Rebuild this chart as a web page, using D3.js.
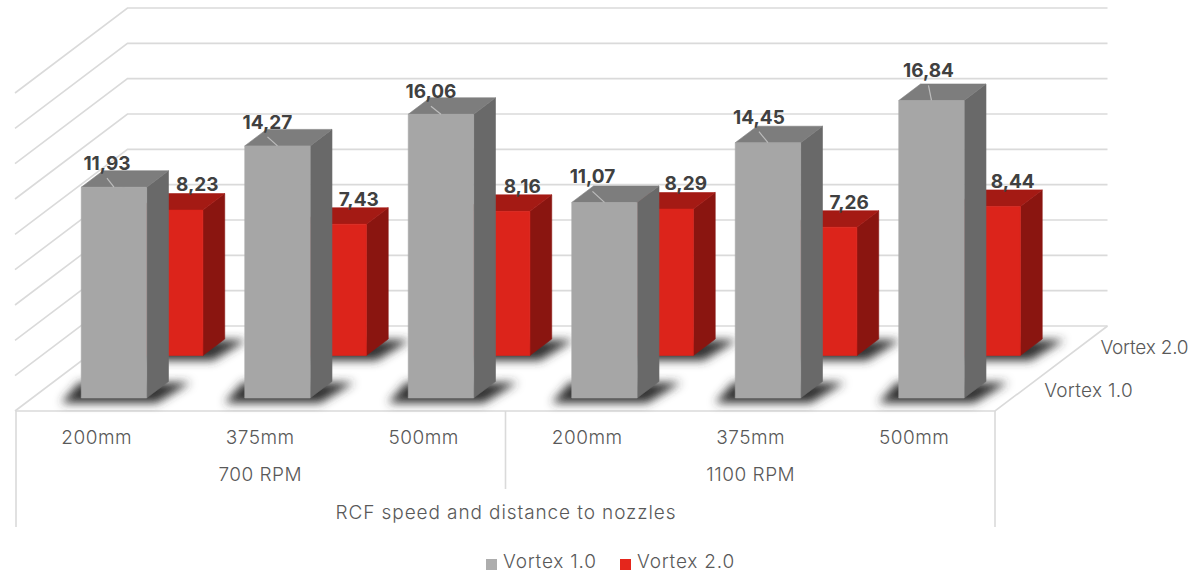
<!DOCTYPE html>
<html>
<head>
<meta charset="utf-8">
<script src="https://cdn.jsdelivr.net/npm/d3@7"></script>
<style>
  html, body { margin: 0; padding: 0; background: #fff; }
  svg { display: block; }
  text { font-family: Inter, "Open Sans", sans-serif; }
</style>
</head>
<body>
<svg id="chart" width="1204" height="572"></svg>
<script>
// Chart data
const distances = ["200mm", "375mm", "500mm", "200mm", "375mm", "500mm"];
const speeds = ["700 RPM", "1100 RPM"];
const seriesNames = ["Vortex 1.0", "Vortex 2.0"];
const vortex1 = [11.93, 14.27, 16.06, 11.07, 14.45, 16.84];
const vortex2 = [8.23, 7.43, 8.16, 8.29, 7.26, 8.44];
const axisTitle = "RCF speed and distance to nozzles";

// Hand placement of the value labels relative to each bar's top edge
const nudgeV1 = [[-7, -24], [-10, -24], [-10, -23], [-12, -26], [-9, -26], [-3, -30]];
const nudgeV2 = [[27, -26], [25, -25], [25, -25], [25, -26], [25, -25], [25, -25]];

const svg = d3.select("#chart");
const defs = svg.append("defs");
defs.append("filter").attr("id", "floorShadow")
  .attr("x", "-40%").attr("y", "-80%").attr("width", "180%").attr("height", "260%")
  .append("feGaussianBlur").attr("stdDeviation", 5);

// Oblique projection: x runs along the front edge, z goes into the depth, y goes up
const x = d3.scaleBand().domain(d3.range(distances.length)).range([15, 996])
  .paddingInner(0.6).paddingOuter(0.3);
const z = d3.scaleBand().domain(seriesNames).range([0, 1])
  .paddingInner(0.612).paddingOuter(0.306);
const y = d3.scaleLinear().domain([0, 18]).range([0, 318]);
const floorY = 411, depthX = 112.5, depthY = 85;

const px = (vx, vz) => vx + vz * depthX;
const py = (vy, vz) => floorY - vz * depthY - y(vy);
const pt = (vx, vy, vz) => [px(vx, vz), py(vy, vz)];
const path = d3.line().curve(d3.curveLinearClosed);
const openPath = d3.line();

const x0 = 16, x1 = 995;
const gridColor = "#dadada";

// Back wall, side wall and floor gridlines
const grid = svg.append("g").attr("fill", "none").attr("stroke", gridColor).attr("stroke-width", 1.6);
y.ticks(9).forEach(t => {
  grid.append("path").attr("d", openPath([pt(x0 - 1, t, 0), pt(x0 - 1, t, 1), pt(x1, t, 1)]));
});
grid.append("path").attr("d", openPath([pt(x0, 0, 0), pt(x1, 0, 0), pt(x1, 0, 1)]));

// Multi-level category axis dividers
const axisLines = svg.append("g").attr("stroke", gridColor).attr("stroke-width", 1.6);
const dividers = [[x0, 527], [(x0 + x1) / 2, 489], [x1, 527]];
dividers.forEach(([dx, bottom]) => {
  axisLines.append("line").attr("x1", dx).attr("x2", dx).attr("y1", floorY).attr("y2", bottom);
});

const palette = [
  { front: "#a6a6a6", top: "#7d7d7d", side: "#696969" },
  { front: "#dc241b", top: "#a41a14", side: "#8a1510" }
];

// Soft cast shadow on the floor: wider than the footprint on both sides
function drawShadow(g, i, series) {
  const a = x(i), b = a + x.bandwidth();
  const zf = z(series), zb = zf + z.bandwidth();
  g.append("path")
    .attr("d", path([
      [px(a, zf) - 20, py(0, zf) + 5],
      [px(b, zf) + 10, py(0, zf) + 5],
      [px(b, zb) + 22, py(0, zb) + 1],
      [px(a, zb) - 24, py(0, zb) + 1]
    ]))
    .attr("fill", "#333")
    .attr("filter", "url(#floorShadow)");
}

// One extruded bar: side, top and front faces
function drawBar(g, i, value, series, colors) {
  const a = x(i), b = a + x.bandwidth();
  const zf = z(series), zb = zf + z.bandwidth();
  const face = (fill, points) => g.append("path")
    .attr("fill", fill).attr("stroke", fill).attr("stroke-width", 0.6)
    .attr("d", path(points));
  face(colors.side, [pt(b, 0, zf), pt(b, 0, zb), pt(b, value, zb), pt(b, value, zf)]);
  face(colors.top, [pt(a, value, zf), pt(b, value, zf), pt(b, value, zb), pt(a, value, zb)]);
  face(colors.front, [pt(a, 0, zf), pt(b, 0, zf), pt(b, value, zf), pt(a, value, zf)]);
}

// The rear row goes first so the front row overlaps it
const rows = [
  { series: seriesNames[1], values: vortex2, colors: palette[1] },
  { series: seriesNames[0], values: vortex1, colors: palette[0] }
];
rows.forEach(row => {
  const g = svg.append("g");
  row.values.forEach((v, i) => drawShadow(g, i, row.series));
  row.values.forEach((v, i) => drawBar(g, i, v, row.series, row.colors));
});

// Value labels with decimal commas, and leader lines on the taller row
const labelFmt = v => d3.format(".2f")(v).replace(".", ",");
const labels = svg.append("g").attr("text-anchor", "middle")
  .attr("font-size", 19).attr("font-weight", 700).attr("fill", "#404040");
const leaders = svg.append("g").attr("stroke", "#bdbdbd").attr("stroke-width", 1.2);

vortex2.forEach((v, i) => {
  const cx = px(x(i) + x.bandwidth() / 2, z(seriesNames[1]));
  const cy = py(v, z(seriesNames[1]));
  labels.append("text").attr("x", cx + nudgeV2[i][0]).attr("y", cy + nudgeV2[i][1] + 7).text(labelFmt(v));
});
vortex1.forEach((v, i) => {
  const cx = px(x(i) + x.bandwidth() / 2, z(seriesNames[0]));
  const cy = py(v, z(seriesNames[0]));
  const lx = cx + nudgeV1[i][0], ly = cy + nudgeV1[i][1];
  leaders.append("line").attr("x1", lx).attr("y1", ly + 15).attr("x2", cx).attr("y2", cy);
  labels.append("text").attr("x", lx).attr("y", ly + 7).text(labelFmt(v));
});

// Category axis text
const axisText = svg.append("g").attr("fill", "#595959").attr("font-size", 19)
  .attr("font-weight", 300).attr("letter-spacing", 0.5);
distances.forEach((d, i) => {
  axisText.append("text").attr("x", x(i) + x.bandwidth() / 2).attr("y", 444)
    .attr("text-anchor", "middle").text(d);
});
speeds.forEach((s, i) => {
  const mid = d3.mean([x(i * 3), x(i * 3 + 2)]) + x.bandwidth() / 2;
  axisText.append("text").attr("x", mid).attr("y", 481).attr("text-anchor", "middle").text(s);
});
axisText.append("text").attr("x", (x0 + x1) / 2 + 0.5).attr("y", 519)
  .attr("text-anchor", "middle").attr("letter-spacing", 0.9).text(axisTitle);

// Depth axis text beside the floor's right edge
seriesNames.forEach((s, i) => {
  const mid = z(s) + z.bandwidth() / 2;
  axisText.append("text").attr("x", px(x1, mid) + 21).attr("y", py(0, mid) + 7)
    .attr("letter-spacing", i === 0 ? 0.3 : -0.2).text(s);
});

// Legend
const legendPositions = [486, 620];
const legend = svg.append("g").attr("fill", "#595959").attr("font-size", 19)
  .attr("font-weight", 300).attr("letter-spacing", 0.8);
seriesNames.forEach((s, i) => {
  legend.append("rect").attr("x", legendPositions[i]).attr("y", 559).attr("width", 11).attr("height", 11)
    .attr("fill", i === 0 ? "#adadad" : "#e5261c");
  legend.append("text").attr("x", legendPositions[i] + 17).attr("y", 567.5).text(s);
});
</script>
</body>
</html>
